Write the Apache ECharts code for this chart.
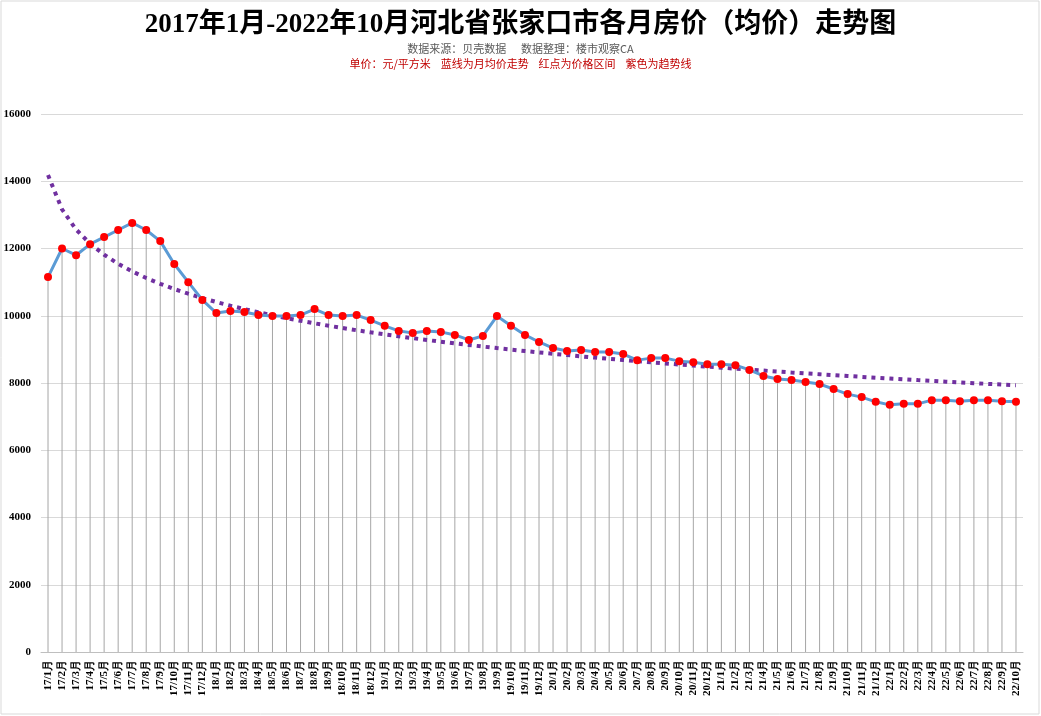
<!DOCTYPE html>
<html><head><meta charset="utf-8">
<script src="https://cdn.jsdelivr.net/npm/echarts@6/dist/echarts.min.js"></script>
<style>html,body{margin:0;padding:0;background:#fff}#c{width:1041px;height:716px}</style>
</head><body><div id="c"></div>
<script>
const years = ['17','18','19','20','21','22'];
const categories = [];
years.forEach(y => { for (let m = 1; m <= 12; m++) { if (y === '22' && m > 10) break; categories.push(y + '/' + m + '月'); } });
const prices = [11150,12000,11800,12130,12340,12550,12760,12550,12220,11540,11000,10470,
10080,10140,10110,10020,9990,9990,10020,10200,10020,9990,10020,9870,
9700,9550,9490,9550,9520,9430,9280,9400,9990,9700,9430,9220,
9040,8950,8980,8920,8920,8860,8680,8740,8740,8650,8620,8560,
8560,8530,8390,8210,8120,8090,8030,7970,7820,7670,7580,7440,
7350,7380,7380,7490,7490,7460,7490,7490,7460,7440];
const yTicks = [0,2000,4000,6000,8000,10000,12000,14000,16000];

// logarithmic trendline (least squares fit of the price data, as in a spreadsheet trendline)
const n = prices.length;
let sx=0, sy=0, sxx=0, sxy=0;
prices.forEach((v,i) => { const x = Math.log(i+1); sx+=x; sy+=v; sxx+=x*x; sxy+=x*v; });
const b = (n*sxy - sx*sy) / (n*sxx - sx*sx), a = (sy - b*sx)/n;
const trend = prices.map((v,i) => Math.round(a + b*Math.log(i+1)));

const serif = 'Liberation Serif, DejaVu Serif, serif';
const chart = echarts.init(document.getElementById('c'));
chart.setOption({
  backgroundColor: '#fff',
  animation: false,
  graphic: [{type:'rect', shape:{x:1,y:1,width:1038,height:713}, style:{fill:'none', stroke:'#d9d9d9', lineWidth:1}}],
  title: [
    {text:'2017年1月-2022年10月河北省张家口市各月房价（均价）走势图', left:'center', top:7,
     textStyle:{fontFamily:serif+', Noto Sans CJK SC', fontSize:27, fontWeight:'bold', color:'#000'}},
    {text:'数据来源：贝壳数据      数据整理：楼市观察CA', left:'center', top:38,
     textStyle:{fontFamily:'Noto Sans CJK SC', fontSize:11, fontWeight:'normal', color:'#595959'}},
    {text:'单价：元/平方米    蓝线为月均价走势    红点为价格区间    紫色为趋势线', left:'center', top:53,
     textStyle:{fontFamily:'Noto Sans CJK SC', fontSize:11, fontWeight:'normal', color:'#c00000'}}
  ],
  grid: {left:41, right:18, top:114, bottom:64},
  xAxis: {type:'category', data:categories, boundaryGap:true,
    axisLine:{lineStyle:{color:'#bfbfbf'}}, axisTick:{show:false},
    axisLabel:{rotate:90, interval:0, fontFamily:serif, fontSize:11, fontWeight:'bold', color:'#000', margin:8}},
  yAxis: {type:'value', min:yTicks[0], max:yTicks[yTicks.length-1], interval:2000,
    axisLine:{show:false}, axisTick:{show:false},
    splitLine:{lineStyle:{color:'#d9d9d9'}},
    axisLabel:{formatter: v => String(v), fontFamily:serif, fontSize:11, fontWeight:'bold', color:'#000', margin:10}},
  series: [
    {type:'bar', data:prices, barWidth:1, itemStyle:{color:'#a6a6a6'}, silent:true, z:1},
    {type:'line', data:trend, symbol:'none', smooth:false,
     lineStyle:{color:'#7030a0', width:4, type:[4,5]}, z:2},
    {type:'line', data:prices, symbol:'circle', symbolSize:8,
     lineStyle:{color:'#5b9bd5', width:3}, itemStyle:{color:'#ff0000', borderWidth:0}, z:3}
  ]
});
</script></body></html>
